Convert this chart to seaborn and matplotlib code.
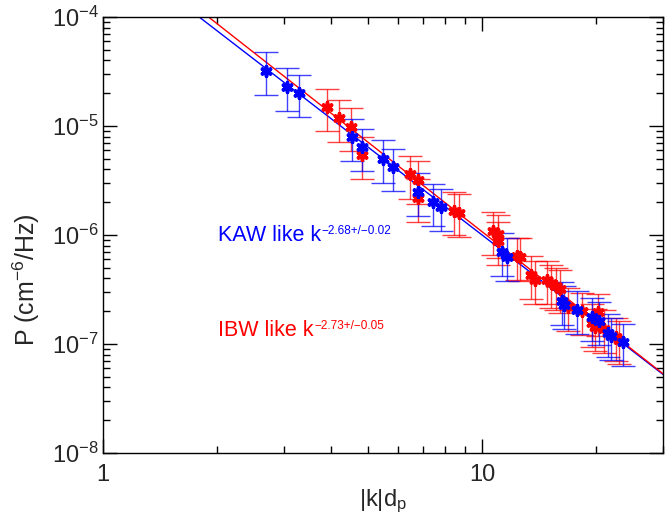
import numpy as np
import pandas as pd
import matplotlib
matplotlib.use('Agg')
import matplotlib.pyplot as plt
import seaborn as sns
from matplotlib.ticker import FixedLocator, FixedFormatter, NullFormatter, LogLocator

# KAW-like (blue) points
kaw_k = [2.69, 3.05, 3.28, 4.55, 4.83, 5.49, 5.83, 6.79, 7.43, 7.8,
         11.3, 11.6, 16.2, 16.4, 17.8, 19.5, 20.3, 21.5, 21.9, 23.5]
kaw_p = [3.2e-5, 2.28e-5, 2.0e-5, 7.9e-6, 6.4e-6, 4.98e-6, 4.2e-6, 2.5e-6, 2.0e-6, 1.8e-6,
         7.0e-7, 6.3e-7, 2.5e-7, 2.3e-7, 2.05e-7, 1.77e-7, 1.63e-7, 1.26e-7, 1.18e-7, 1.04e-7]

# IBW-like (red) points
ibw_k = [3.89, 4.2, 4.52, 4.83, 6.47, 6.79, 6.79, 8.44, 8.7, 10.7,
         11.0, 11.0, 12.4, 12.6, 13.5, 13.8, 14.8, 15.2, 15.7, 16.1,
         16.9, 18.3, 19.5, 19.9, 20.2, 21.0, 22.5, 23.0]
ibw_p = [1.49e-5, 1.18e-5, 9.8e-6, 5.4e-6, 3.6e-6, 3.2e-6, 2.2e-6, 1.66e-6, 1.6e-6, 1.09e-6,
         1.02e-6, 8.9e-7, 6.4e-7, 6.3e-7, 4.3e-7, 3.9e-7, 3.9e-7, 3.6e-7, 3.4e-7, 3.2e-7,
         2.2e-7, 2.0e-7, 1.56e-7, 1.43e-7, 1.96e-7, 1.38e-7, 1.16e-7, 1.09e-7]

# relative error bar extents (below / above)
err_lo, err_hi = 0.40, 0.48

# power-law fits  P = A * k^idx
kaw_amp, kaw_idx = 10 ** -3.32, -2.68
ibw_amp, ibw_idx = 10 ** -3.24, -2.73

sns.set_style('ticks')
plt.rcParams['font.family'] = ['Liberation Sans', 'DejaVu Sans']
plt.rcParams['mathtext.fontset'] = 'custom'
plt.rcParams['mathtext.rm'] = 'Liberation Sans'
plt.rcParams['mathtext.it'] = 'Liberation Sans:italic'
plt.rcParams['mathtext.bf'] = 'Liberation Sans:bold'

fig = plt.figure(figsize=(6.71, 5.15), dpi=100)
ax = fig.add_axes([0.1535, 0.1204, 0.8345, 0.8466])
ax.set_xscale('log')
ax.set_yscale('log')

kfit = np.logspace(0, np.log10(30), 200)
fits = pd.concat([
    pd.DataFrame({'k': kfit, 'P': kaw_amp * kfit ** kaw_idx, 'mode': 'KAW'}),
    pd.DataFrame({'k': kfit, 'P': ibw_amp * kfit ** ibw_idx, 'mode': 'IBW'}),
])
palette = {'KAW': '#0000ff', 'IBW': '#ff0000'}
sns.lineplot(data=fits, x='k', y='P', hue='mode', palette=palette, lw=1.0,
             legend=False, ax=ax, zorder=2)

for k, p, mode in [(ibw_k, ibw_p, 'IBW'), (kaw_k, kaw_p, 'KAW')]:
    k = np.array(k)
    p = np.array(p)
    ax.errorbar(k, p, yerr=[p * err_lo, p * err_hi], fmt='none',
                ecolor=palette[mode], elinewidth=1.0, capsize=8.5, capthick=1.0,
                alpha=0.75, zorder=3)
    df = pd.DataFrame({'k': k, 'P': p})
    sns.scatterplot(data=df, x='k', y='P', marker=(6, 2, 0), s=45, color=palette[mode],
                    linewidth=2.6, edgecolor=palette[mode], ax=ax, zorder=4)

ax.set_xlim(1, 30)
ax.set_ylim(1e-8, 1e-4)

ax.xaxis.set_major_locator(FixedLocator([1, 10]))
ax.xaxis.set_major_formatter(FixedFormatter(['1', '10']))
ax.xaxis.set_minor_locator(LogLocator(base=10, subs=np.arange(2, 10), numticks=20))
ax.xaxis.set_minor_formatter(NullFormatter())
ax.yaxis.set_major_locator(FixedLocator([1e-8, 1e-7, 1e-6, 1e-5, 1e-4]))
ax.yaxis.set_major_formatter(FixedFormatter([r'10$^{\mathregular{-8}}$', r'10$^{\mathregular{-7}}$',
                                             r'10$^{\mathregular{-6}}$', r'10$^{\mathregular{-5}}$',
                                             r'10$^{\mathregular{-4}}$']))
ax.yaxis.set_minor_locator(LogLocator(base=10, subs=np.arange(2, 10), numticks=20))
ax.yaxis.set_minor_formatter(NullFormatter())

ax.tick_params(which='both', direction='in', top=True, right=True, color='black', width=1.0)
ax.tick_params(which='major', length=10, labelsize=17)
ax.tick_params(which='minor', length=5)
ax.tick_params(axis='x', which='major', pad=8)
ax.tick_params(axis='y', which='major', pad=3)
for s in ax.spines.values():
    s.set_color('black')
    s.set_linewidth(1.0)

ax.set_xlabel(r'|k|d$_{\mathregular{p}}$', fontsize=17)
ax.set_ylabel(r'P (cm$^{\mathregular{-6}}$/Hz)', fontsize=18)
ax.xaxis.set_label_coords(0.5, -0.080)
ax.yaxis.set_label_coords(-0.109, 0.397)

t1 = ax.text(2.01, 9.8e-7, 'KAW like k', color='#0000ff', fontsize=15.5,
             va='center', ha='left')
ax.annotate('\u22122.68+/\u22120.02', xy=(1, 1), xycoords=t1, xytext=(0.5, 0),
            textcoords='offset points', color='#0000ff', fontsize=8.5, va='top', ha='left')
t2 = ax.text(2.01, 1.34e-7, 'IBW like k', color='#ff0000', fontsize=15.5,
             va='center', ha='left')
ax.annotate('\u22122.73+/\u22120.05', xy=(1, 1), xycoords=t2, xytext=(0.5, 0),
            textcoords='offset points', color='#ff0000', fontsize=8.5, va='top', ha='left')

fig.savefig('out.png', dpi=100)
